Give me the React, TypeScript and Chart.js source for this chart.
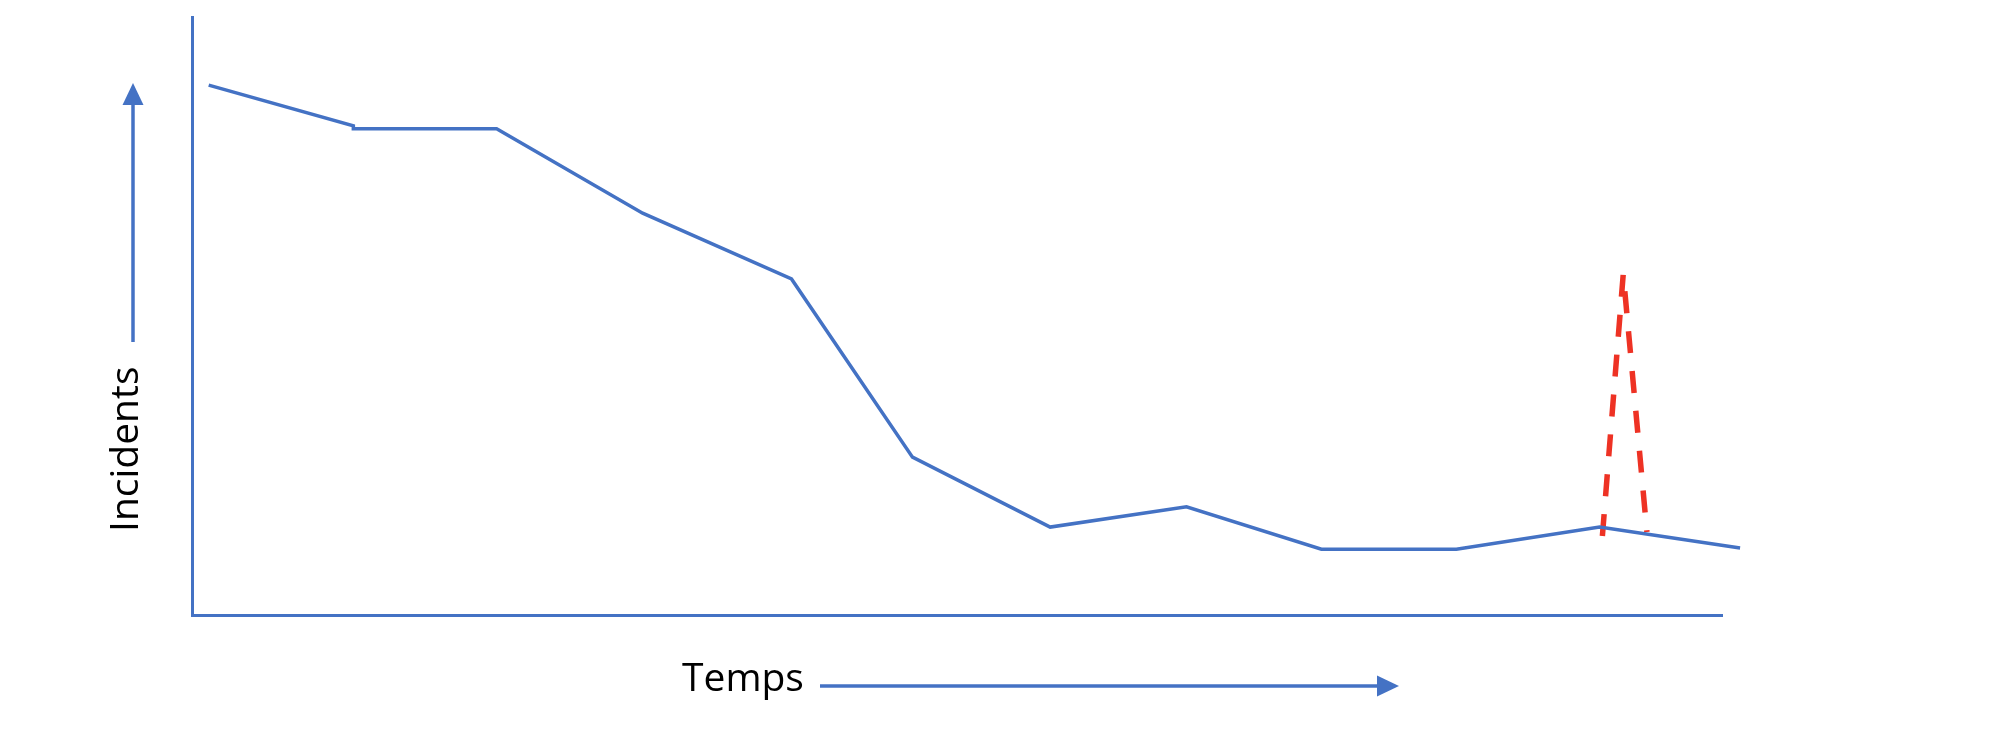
import React, { useEffect, useRef } from "react";
import { Chart, registerables } from "chart.js";

Chart.register(...registerables);

// ---- data (time index vs. number of incidents, arbitrary units) ----
const timeValues = [0.12, 1.16, 1.16, 2.19, 3.24, 4.31, 5.18, 6.17, 7.15, 8.12, 9.09, 10.12, 11.13];
const incidentValues = [88.6, 81.8, 81.3, 81.3, 67.2, 56.2, 26.4, 14.7, 18.1, 11.0, 11.0, 14.7, 11.2];
const spikeTime = [10.14, 10.29, 10.46];
const spikeValues = [13.2, 57.0, 13.9];
const xRange = [0, 11];
const yRange = [0, 100];
const xLabel = "Temps";
const yLabel = "Incidents";

const BLUE = "#4472C4";
const RED = "#EE3224";
const FONT = '500 39px "Open Sans"';

const decorPlugin = {
  id: "decor",
  afterDraw(chart: any) {
    const ctx = chart.ctx as CanvasRenderingContext2D;
    const { left, bottom } = chart.chartArea;
    ctx.save();
    ctx.strokeStyle = BLUE;
    ctx.fillStyle = BLUE;
    ctx.lineWidth = 3.5;
    ctx.lineCap = "butt";

    // vertical arrow (left of the y axis)
    const ax = left - 59;
    const tipY = bottom - 532;
    ctx.beginPath();
    ctx.moveTo(ax, bottom - 273);
    ctx.lineTo(ax, tipY + 20);
    ctx.stroke();
    ctx.beginPath();
    ctx.moveTo(ax, tipY);
    ctx.lineTo(ax - 10.5, tipY + 22);
    ctx.lineTo(ax + 10.5, tipY + 22);
    ctx.closePath();
    ctx.fill();

    // horizontal arrow (under the x axis)
    const ay = bottom + 71;
    const tipX = left + 1207;
    ctx.beginPath();
    ctx.moveTo(left + 628, ay);
    ctx.lineTo(tipX - 20, ay);
    ctx.stroke();
    ctx.beginPath();
    ctx.moveTo(tipX, ay);
    ctx.lineTo(tipX - 22, ay - 10.5);
    ctx.lineTo(tipX - 22, ay + 10.5);
    ctx.closePath();
    ctx.fill();

    // labels
    ctx.fillStyle = "#000000";
    ctx.font = FONT;
    ctx.textAlign = "left";
    ctx.textBaseline = "alphabetic";
    ctx.fillText(xLabel, left + 490, bottom + 76);

    ctx.translate(left - 54, bottom - 83);
    ctx.rotate(-Math.PI / 2);
    ctx.fillText(yLabel, 0, 0);
    ctx.restore();
  },
};

export default function App() {
  const canvasRef = useRef<HTMLCanvasElement | null>(null);

  useEffect(() => {
    const canvas = canvasRef.current;
    if (!canvas) return;
    const chart = new Chart(canvas, {
      type: "line",
      data: {
        datasets: [
          {
            data: timeValues.map((t, i) => ({ x: t, y: incidentValues[i] })),
            borderColor: BLUE,
            borderWidth: 3.5,
            pointRadius: 0,
            tension: 0,
            fill: false,
            clip: false as any,
          },
          {
            data: spikeTime.map((t, i) => ({ x: t, y: spikeValues[i] })),
            borderColor: RED,
            borderWidth: 5.5,
            borderDash: [22, 18],
            pointRadius: 0,
            tension: 0,
            fill: false,
            clip: false as any,
          },
        ],
      },
      options: {
        animation: false,
        responsive: true,
        maintainAspectRatio: false,
        layout: { padding: { left: 192, top: 17, right: 274, bottom: 127 } },
        plugins: {
          legend: { display: false },
          tooltip: { enabled: false },
          title: { display: false },
        },
        scales: {
          x: {
            type: "linear",
            min: xRange[0],
            max: xRange[1],
            ticks: { display: false },
            grid: { display: false, drawTicks: false },
            border: { display: true, color: BLUE, width: 3 },
          },
          y: {
            type: "linear",
            min: yRange[0],
            max: yRange[1],
            ticks: { display: false },
            grid: { display: false, drawTicks: false },
            border: { display: true, color: BLUE, width: 3 },
          },
        },
      },
      plugins: [decorPlugin],
    });
    return () => chart.destroy();
  }, []);

  return (
    <div
      style={{
        position: "fixed",
        left: 0,
        top: 0,
        width: "1996px",
        height: "742px",
        background: "#ffffff",
      }}
    >
      <canvas ref={canvasRef} />
    </div>
  );
}
